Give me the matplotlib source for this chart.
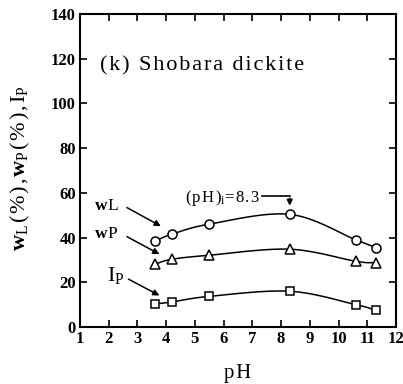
import numpy as np
import matplotlib
matplotlib.use("Agg")
import matplotlib.pyplot as plt

plt.rcParams['font.family'] = ['Liberation Serif', 'DejaVu Serif']
plt.rcParams['mathtext.fontset'] = 'custom'
plt.rcParams['mathtext.rm'] = 'Liberation Serif'
plt.rcParams['mathtext.it'] = 'Liberation Serif'
plt.rcParams['mathtext.bf'] = 'Liberation Serif:bold'

ph = [3.6, 4.2, 5.5, 8.3, 10.6, 11.3]
wL = [38.4, 41.5, 46.0, 50.4, 39.0, 35.5]
wP = [28.1, 30.3, 32.1, 34.8, 29.4, 28.7]
IP = [10.3, 11.2, 13.7, 16.0, 10.0, 7.5]
xticks = list(range(1, 13))
yticks = list(range(0, 141, 20))

HS = '\u200a'  # hair space for letter spacing


def spaced(s):
    return HS.join(s)


def smooth(x, y, n=20):
    x = np.asarray(x, float); y = np.asarray(y, float)
    px = np.concatenate([[2 * x[0] - x[1]], x, [2 * x[-1] - x[-2]]])
    py = np.concatenate([[2 * y[0] - y[1]], y, [2 * y[-1] - y[-2]]])
    xs, ys = [], []
    for i in range(1, len(px) - 2):
        t = np.linspace(0, 1, n)
        for arr, out in ((px, xs), (py, ys)):
            p0, p1, p2, p3 = arr[i - 1], arr[i], arr[i + 1], arr[i + 2]
            out.extend(0.5 * ((2 * p1) + (-p0 + p2) * t + (2 * p0 - 5 * p1 + 4 * p2 - p3) * t ** 2
                              + (-p0 + 3 * p1 - 3 * p2 + p3) * t ** 3))
    return xs, ys


fig = plt.figure(figsize=(4.03, 3.84), dpi=100)
ax = fig.add_axes([80 / 403, 1 - 327 / 384, 316 / 403, 313 / 384])

for y, m, ms in ((wL, 'o', 6.5), (wP, '^', 6.5), (IP, 's', 5.5)):
    sx, sy = smooth(ph, y)
    ax.plot(sx, sy, color='black', lw=1.1, zorder=2)
    ax.plot(ph, y, m, ms=ms, mfc='white', mec='black', mew=1.1, zorder=3)

ax.set_xlim(1, 12)
ax.set_ylim(0, 140)
ax.set_xticks(xticks)
ax.set_yticks(yticks)
ax.tick_params(direction='in', top=True, right=True, length=5, width=1.2,
               labelsize=12, pad=3)
for lab in ax.get_xticklabels() + ax.get_yticklabels():
    lab.set_fontweight('bold')
for s in ax.spines.values():
    s.set_linewidth(1.5)

ax.set_xlabel('p' + HS + 'H', fontsize=15, labelpad=12)
fig.text(20 / 403, 1 - 168 / 384,
         r'$\mathbf{w}$' + r'$_{\rm L}$' + HS + '(' + HS + '%' + HS + ')' + HS + ',' + HS +
         r'$\mathbf{w}$' + r'$_{\rm P}$' + HS + '(' + HS + '%' + HS + ')' + HS + ',' + HS +
         r'I$_{\rm P}$',
         fontsize=16, rotation=90, ha='center', va='center')

ax.text(1.7, 117, spaced('(k) Shobara dickite'), fontsize=16, ha='left', va='center')

# (pH)i annotation
ax.text(4.65, 57.5, spaced('(pH)') + r'$_{\rm i}$' + spaced('=8.3'), fontsize=12,
        ha='left', va='center')
ax.plot([7.35, 8.3], [58.5, 58.5], color='black', lw=1.2)
ax.annotate('', xy=(8.3, 53), xytext=(8.3, 58.8),
            arrowprops=dict(arrowstyle='-|>', color='black', lw=1.2, mutation_scale=8))

# series labels with arrows
ax.text(1.5, 54, r'$\mathbf{w}$' + HS + r'$\mathrm{L}$', fontsize=12.5, ha='left', va='center')
ax.annotate('', xy=(3.9, 44.5), xytext=(2.55, 54),
            arrowprops=dict(arrowstyle='-|>', color='black', lw=1.1, mutation_scale=9))
ax.text(1.5, 41.5, r'$\mathbf{w}$' + HS + r'$\mathrm{P}$', fontsize=12.5, ha='left', va='center')
ax.annotate('', xy=(3.85, 32), xytext=(2.55, 41),
            arrowprops=dict(arrowstyle='-|>', color='black', lw=1.1, mutation_scale=9))
ax.text(1.95, 23, 'I' + r'$_{\rm P}$', fontsize=16, ha='left', va='center')
ax.annotate('', xy=(3.85, 13.5), xytext=(2.6, 22),
            arrowprops=dict(arrowstyle='-|>', color='black', lw=1.1, mutation_scale=9))

fig.savefig('out.png', dpi=100)
